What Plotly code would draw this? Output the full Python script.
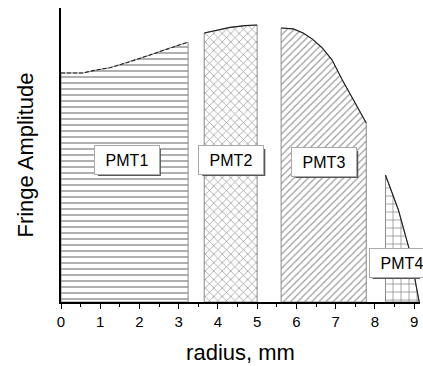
import plotly.graph_objects as go

# Detector zones: radius (mm) and relative fringe amplitude along each zone's top edge
pmt1_r = [0.0, 0.57, 0.82, 1.25, 1.68, 2.27, 2.70, 3.24]
pmt1_a = [0.779, 0.779, 0.787, 0.797, 0.814, 0.840, 0.861, 0.884]

pmt2_r = [3.65, 3.93, 4.31, 4.69, 5.0]
pmt2_a = [0.915, 0.923, 0.934, 0.940, 0.942]

pmt3_r = [5.61, 5.92, 6.17, 6.40, 6.66, 6.91, 7.17, 7.50, 7.70, 7.78]
pmt3_a = [0.932, 0.929, 0.915, 0.895, 0.864, 0.823, 0.755, 0.677, 0.629, 0.609]

pmt4_r = [8.27, 8.60, 8.88, 9.13]
pmt4_a = [0.432, 0.313, 0.177, 0.0]

zone_names = ["PMT1", "PMT2", "PMT3", "PMT4"]
label_r = [1.68, 4.34, 6.71, 8.68]
label_a = [0.483, 0.483, 0.476, 0.133]

zones = [
    (pmt1_r, pmt1_a, "-", 6, "#222222", 0.24, "dash"),
    (pmt2_r, pmt2_a, "x", 6, "#222222", 0.22, "solid"),
    (pmt3_r, pmt3_a, "/", 5, "#333333", 0.24, "solid"),
    (pmt4_r, pmt4_a, "+", 8, "#111111", 0.18, "solid"),
]

FONT = "Liberation Sans, Arial, sans-serif"
BOX_W, BOX_H = 62, 26

fig = go.Figure()
for r, a, shape, size, col, sol, dash in zones:
    xs = [r[0]] + list(r) + [r[-1], r[0]]
    ys = [0.0] + list(a) + [0.0, 0.0]
    fig.add_trace(go.Scatter(
        x=xs, y=ys, mode="lines", fill="toself",
        fillcolor="white",
        fillpattern=dict(shape=shape, size=size, solidity=sol,
                         fgcolor=col, bgcolor="white"),
        line=dict(color="#8a8a8a", width=1),
        hoverinfo="skip", showlegend=False,
    ))
    # darker top edge
    fig.add_trace(go.Scatter(
        x=r, y=a, mode="lines",
        line=dict(color="#222222", width=1.1,
                  dash="4px,2px" if dash == "dash" else "solid"),
        hoverinfo="skip", showlegend=False,
    ))

for name, x, y in zip(zone_names, label_r, label_a):
    # drop shadow behind each label box (pixel-sized, anchored at the label)
    fig.add_shape(
        type="rect", layer="above",
        xref="x", yref="y", xsizemode="pixel", ysizemode="pixel",
        xanchor=x, yanchor=y,
        x0=-BOX_W / 2 + 2, x1=BOX_W / 2 + 3,
        y0=-BOX_H / 2 - 3, y1=BOX_H / 2 - 2,
        fillcolor="#555555", line=dict(width=0),
    )
    fig.add_annotation(
        x=x, y=y, text=name, showarrow=False,
        width=BOX_W, height=BOX_H, borderpad=1,
        font=dict(family=FONT, size=16, color="black"),
        bgcolor="white", bordercolor="#aaaaaa", borderwidth=1,
    )

fig.update_layout(
    width=423, height=366,
    margin=dict(l=61, r=3, t=8, b=64),
    paper_bgcolor="white", plot_bgcolor="white",
    font=dict(family=FONT, color="black"),
    xaxis=dict(
        range=[0, 9.15], tickmode="array", tickvals=list(range(10)),
        ticks="outside", ticklen=5, tickwidth=1, tickcolor="black",
        minor=dict(tickvals=[i + 0.5 for i in range(9)], ticks="outside",
                   ticklen=3, tickwidth=1, tickcolor="black"),
        showline=True, linecolor="black", linewidth=1.5,
        showgrid=False, zeroline=False,
        tickfont=dict(size=15),
        title=dict(text="radius, mm", font=dict(size=22), standoff=16),
    ),
    yaxis=dict(
        range=[0, 1.0], showticklabels=False, ticks="",
        showline=True, linecolor="black", linewidth=1.5,
        showgrid=False, zeroline=False,
        title=dict(text="Fringe Amplitude", font=dict(size=22), standoff=20),
    ),
)

fig.write_html("out.html")
